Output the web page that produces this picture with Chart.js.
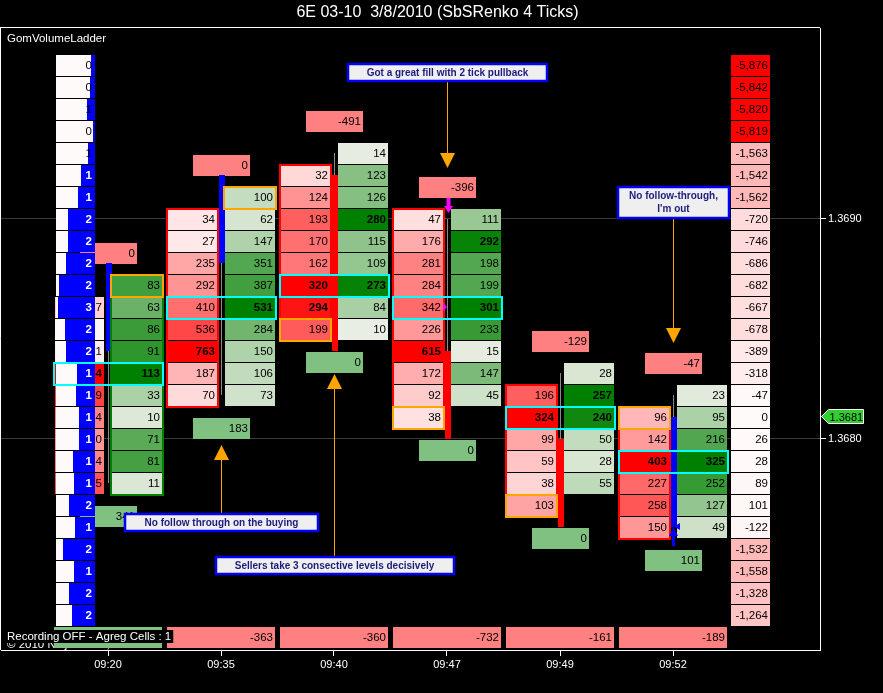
<!DOCTYPE html>
<html>
<head>
<meta charset="utf-8">
<script src="https://cdn.jsdelivr.net/npm/chart.js@4.4.1/dist/chart.umd.min.js"></script>
<style>
html,body{margin:0;padding:0;background:#000;overflow:hidden}
canvas{display:block}
</style>
</head>
<body>
<canvas id="c" width="883" height="693"></canvas>
<script>
// ---------------- DATA ----------------
const chartTitle = '6E 03-10  3/8/2010 (SbSRenko 4 Ticks)';
const indicatorName = 'GomVolumeLadder';
const statusText = 'Recording OFF - Agreg Cells : 1';
const copyrightText = '\u00A9 2010 NinjaTrader, LLC';
const TICK = 0.0001;

const times = ['09:20', '09:35', '09:40', '09:47', '09:49', '09:52'];
const yTickValues = [1.3680, 1.3690];
const lastPrice = 1.3681;

// candles
const candleOpen  = [1.3684, 1.3688, 1.3692, 1.3684, 1.3680, 1.3676];
const candleClose = [1.3688, 1.3692, 1.3684, 1.3680, 1.3676, 1.3681];
const candleHigh  = [1.3688, 1.3692, 1.3693, 1.3690, 1.3683, 1.3682];
const candleLow   = [1.3678, 1.3682, 1.3684, 1.3680, 1.3676, 1.3676];

// bid (sell) volume per price, listed from the top price downward
const bidTop = [1.3686, 1.3690, 1.3692, 1.3690, 1.3682, 1.3681];
const bidVolumes = [
  [7, null, 1, 54, 39, 24, 20, 24, 35],
  [34, 27, 235, 292, 410, 536, 763, 187, 70],
  [32, 124, 193, 170, 162, 320, 294, 199],
  [47, 176, 281, 284, 342, 226, 615, 172, 92, 38],
  [196, 324, 99, 59, 38, 103],
  [96, 142, 403, 227, 258, 150]
];
// ask (buy) volume per price, listed from the top price downward
const askTop = [1.3687, 1.3691, 1.3693, 1.3690, 1.3683, 1.3682];
const askVolumes = [
  [83, 63, 86, 91, 113, 33, 10, 71, 81, 11],
  [100, 62, 147, 351, 387, 531, 284, 150, 106, 73],
  [14, 123, 126, 280, 115, 109, 273, 84, 10],
  [111, 292, 198, 199, 301, 233, 15, 147, 45],
  [28, 257, 240, 50, 28, 55],
  [23, 95, 216, 325, 252, 127, 49]
];
// delta boxes above the high / below the low of each bar
const highDelta = [0, 0, -491, -396, -129, -47];
const lowDelta  = [341, 183, 0, 0, 0, 101];
// highlighted (orange) cell of each bar
const markPrice = [1.3687, 1.3691, 1.3685, 1.3681, 1.3677, 1.3681];
const markSide  = ['ask', 'ask', 'bid', 'bid', 'bid', 'bid'];

// trade executions
const tradeBars   = [3, 5];
const tradePrices = [1.3686, 1.3676];
const tradeSides  = ['sell', 'buy'];

// volume ladder (left) and cumulative delta ladder (right)
const ladderTop = 1.3697;
const ladderCounts = [0,0,1,0,1,1,1,2,2,2,2,3,2,2,1,1,1,1,1,1,2,1,2,1,2,2];
const ladderVolume = [4,5,8,2,7,14,17,27,27,29,36,37,30,29,18,19,16,16,22,21,26,20,32,21,26,23];
const ladderVolumeScale = 39;
const ladderDelta = [-5876,-5842,-5820,-5819,-1563,-1542,-1562,-720,-746,-686,-682,-667,-678,
                     -389,-318,-47,0,26,28,89,101,-122,-1532,-1558,-1328,-1264];

// annotations
const notes = [
  {lines: ['Got a great fill with 2 tick pullback'], bar: 3, tip: 1.369232, box: 1.369666, w: 199, dir: 'down'},
  {lines: ['No follow-through,', "I'm out"],         bar: 5, tip: 1.368436, box: 1.369075, w: 111, dir: 'down'},
  {lines: ['No follow through on the buying'],       bar: 1, tip: 1.367973, box: 1.367620, w: 193, dir: 'up'},
  {lines: ['Sellers take 3 consective levels decisively'], bar: 2, tip: 1.368295, box: 1.367425, w: 238, dir: 'up'}
];

// ---------------- STYLE ----------------
const FONT = '"Liberation Sans", Arial, sans-serif';
const CELL_FONT = '11.5px ' + FONT;
const yMax = 1.3690 + 191 / 22 * TICK;
const yMin = 1.3690 - 431 / 22 * TICK;
const xMin = -107 / 113;
const xMax = xMin + 819 / 113;

function redShade(r) { const g = Math.round(240 * (1 - r)); return `rgb(255,${g},${g})`; }
function greenShade(r) {
  return `rgb(${Math.round(242 * (1 - r))},${Math.round(242 + (128 - 242) * r)},${Math.round(236 * (1 - r))})`;
}
function ladderShade(r) { const g = Math.round(250 * (1 - r)); return `rgb(255,${g},${g})`; }
const rp = p => Math.round(p * 1e4) / 1e4;
const fmt = v => v.toLocaleString('en-US');

const footprint = {
  id: 'footprint',
  beforeDraw(chart) {
    const ctx = chart.ctx;
    ctx.save();
    ctx.fillStyle = '#000';
    ctx.fillRect(0, 0, chart.width, chart.height);
    ctx.restore();
  },
  afterDatasetsDraw(chart) {
    const {ctx, chartArea: ca} = chart;
    const xs = chart.scales.x, ys = chart.scales.y;
    const Y = p => ys.getPixelForValue(p);
    const X = i => Math.round(xs.getPixelForValue(i));
    const rowTop = p => Math.round(Y(p + TICK / 2)) + 1;
    const rowBot = p => Math.round(Y(p - TICK / 2));

    function textRight(t, xr, ym, bold, color) {
      ctx.font = (bold ? 'bold ' : '') + CELL_FONT;
      ctx.fillStyle = color || '#000';
      ctx.textAlign = 'right';
      ctx.textBaseline = 'middle';
      ctx.fillText(t, xr, ym);
    }
    function cell(x0, x1, p, fill, txt, bold) {
      const t = rowTop(p), b = rowBot(p);
      ctx.fillStyle = fill;
      ctx.fillRect(x0, t, x1 - x0, b - t);
      if (txt !== null && txt !== undefined) textRight(txt, x1 - 2, (t + b) / 2 + 0.5, bold);
    }
    function box(x0, x1, t, h, fill, txt) {
      ctx.fillStyle = fill;
      ctx.fillRect(x0, t, x1 - x0, h);
      textRight(txt, x1 - 2, t + h / 2 + 0.5, false);
    }

    ctx.save();
    ctx.beginPath();
    ctx.rect(ca.left, ca.top, ca.right - ca.left, ca.bottom - ca.top);
    ctx.clip();

    // copyright (mostly hidden)
    ctx.font = '11.5px ' + FONT;
    ctx.fillStyle = '#fff';
    ctx.textAlign = 'left';
    ctx.textBaseline = 'alphabetic';
    ctx.fillText(copyrightText, 7, 648);

    const deltas = times.map((_, i) => {
      const a = askVolumes[i].reduce((s, v) => s + (v || 0), 0);
      const b = bidVolumes[i].reduce((s, v) => s + (v || 0), 0);
      return a - b;
    });
    const totalRow = rp(ladderTop - ladderCounts.length * TICK);

    // boxes
    times.forEach((_, i) => {
      const c = X(i);
      const hiCell = Math.max(bidTop[i], askTop[i]);
      const loCell = Math.min(rp(bidTop[i] - (bidVolumes[i].length - 1) * TICK),
                              rp(askTop[i] - (askVolumes[i].length - 1) * TICK));
      box(c - 28, c + 29, Math.round(Y(hiCell + 2 * TICK)) + 2, 21, '#ff8080', fmt(highDelta[i]));
      box(c - 28, c + 29, Math.round(Y(loCell - TICK)) + 1, 21, '#80c080', fmt(lowDelta[i]));
      cell(c - 54, c + 54, totalRow, deltas[i] < 0 ? '#ff8080' : '#80c080', fmt(deltas[i]), false);
    });

    // cells
    times.forEach((_, i) => {
      const c = X(i);
      const bmax = Math.max(...bidVolumes[i].map(v => v || 0));
      const amax = Math.max(...askVolumes[i]);
      bidVolumes[i].forEach((v, k) => {
        const p = rp(bidTop[i] - k * TICK);
        const r = (v || 0) / bmax;
        cell(c - 53, c - 4, p, v === null ? '#fff6f6' : redShade(r), v === null ? null : String(v), r > 0.85);
      });
      askVolumes[i].forEach((v, k) => {
        const p = rp(askTop[i] - k * TICK);
        const r = v / amax;
        cell(c + 4, c + 54, p, greenShade(r), String(v), r > 0.85);
      });
    });

    // candles
    times.forEach((_, i) => {
      const c = X(i);
      ctx.strokeStyle = '#8a8a8a';
      ctx.lineWidth = 1;
      ctx.beginPath();
      ctx.moveTo(c + 0.5, Math.round(Y(candleHigh[i])));
      ctx.lineTo(c + 0.5, Math.round(Y(candleLow[i])));
      ctx.stroke();
      const top = Math.round(Y(Math.max(candleOpen[i], candleClose[i])));
      const bot = Math.round(Y(Math.min(candleOpen[i], candleClose[i])));
      ctx.fillStyle = candleClose[i] > candleOpen[i] ? '#0000ff' : '#ff0000';
      ctx.fillRect(c - 2, top, 6, bot - top);
    });

    // left volume ladder
    const lx0 = ca.left + 55, lw = 39;
    const vmax = ladderVolumeScale;
    ladderCounts.forEach((n, k) => {
      const p = rp(ladderTop - k * TICK);
      const t = rowTop(p), b = rowBot(p);
      ctx.fillStyle = '#fffafa';
      ctx.fillRect(lx0, t, lw, b - t);
      const bw = Math.round(ladderVolume[k] / vmax * lw);
      ctx.fillStyle = '#0000ff';
      ctx.fillRect(lx0 + lw - bw, t, bw, b - t);
      ctx.font = (bw >= 10 ? 'bold ' : '') + CELL_FONT;
      ctx.fillStyle = bw >= 10 ? '#fff' : '#000';
      ctx.textAlign = 'right';
      ctx.textBaseline = 'middle';
      ctx.fillText(String(n), lx0 + lw - 3, (t + b) / 2 + 0.5);
    });

    // right delta ladder
    const rx1 = ca.right - 50, rx0 = rx1 - 39;
    const dmax = Math.max(...ladderDelta.map(Math.abs));
    ladderDelta.forEach((v, k) => {
      const p = rp(ladderTop - k * TICK);
      cell(rx0, rx1, p, ladderShade(Math.abs(v) / dmax), fmt(v), false);
    });

    // borders / highlights
    times.forEach((_, i) => {
      const c = X(i);
      ctx.lineWidth = 2;
      // side border by delta
      if (deltas[i] < 0) {
        const t = rowTop(bidTop[i]);
        const b = rowBot(rp(bidTop[i] - (bidVolumes[i].length - 1) * TICK));
        ctx.strokeStyle = '#ff0000';
        ctx.strokeRect(c - 54, t, 51, b - t + 1);
      } else {
        const t = rowTop(askTop[i]);
        const b = rowBot(rp(askTop[i] - (askVolumes[i].length - 1) * TICK));
        ctx.strokeStyle = '#008000';
        ctx.strokeRect(c + 3, t, 52, b - t + 1);
      }
      // orange mark
      {
        const t = rowTop(markPrice[i]), b = rowBot(markPrice[i]);
        ctx.strokeStyle = '#ffa500';
        if (markSide[i] === 'bid') ctx.strokeRect(c - 54, t, 51, b - t + 1);
        else ctx.strokeRect(c + 3, t, 52, b - t + 1);
      }
      // POC (max total volume)
      const tot = {};
      bidVolumes[i].forEach((v, k) => { const p = rp(bidTop[i] - k * TICK); tot[p] = (tot[p] || 0) + (v || 0); });
      askVolumes[i].forEach((v, k) => { const p = rp(askTop[i] - k * TICK); tot[p] = (tot[p] || 0) + v; });
      let poc = null, best = -1;
      Object.keys(tot).forEach(p => { if (tot[p] > best) { best = tot[p]; poc = +p; } });
      const t = rowTop(poc), b = rowBot(poc);
      ctx.strokeStyle = '#00ffff';
      ctx.strokeRect(c - 54, t, 109, b - t + 1);
    });

    // trade markers
    tradeBars.forEach((bi, j) => {
      const c = X(bi);
      const py = Math.round(Y(tradePrices[j]));
      if (tradeSides[j] === 'sell') {
        ctx.fillStyle = '#ff00ff';
        ctx.beginPath();
        ctx.moveTo(c - 4, py - 4.5); ctx.lineTo(c, py); ctx.lineTo(c - 4, py + 4.5); ctx.closePath(); ctx.fill();
        const tip = Math.round(Y(candleHigh[bi])) - 6;
        const cx = c + 1.5;
        ctx.fillRect(cx - 2, tip - 15, 4, 9);
        ctx.beginPath();
        ctx.moveTo(cx - 4.5, tip - 7); ctx.lineTo(cx + 4.5, tip - 7); ctx.lineTo(cx, tip); ctx.closePath(); ctx.fill();
      } else {
        ctx.fillStyle = '#0000ff';
        ctx.beginPath();
        ctx.moveTo(c + 7, py - 4); ctx.lineTo(c + 1, py - 0.5); ctx.lineTo(c + 7, py + 3); ctx.closePath(); ctx.fill();
        const tip = Math.round(Y(candleLow[bi]));
        const cx = c + 0.5;
        ctx.beginPath();
        ctx.moveTo(cx - 4.5, tip + 9); ctx.lineTo(cx + 4.5, tip + 9); ctx.lineTo(cx, tip); ctx.closePath(); ctx.fill();
        ctx.fillRect(cx - 1.5, tip + 9, 3, 10);
      }
    });

    // annotations
    notes.forEach(n => {
      const cx = X(n.bar);
      const by = Y(n.box);
      const h = n.lines.length === 1 ? 17 : 31;
      const bt = Math.round(by - h / 2), bb = bt + h;
      const tipY = Math.round(Y(n.tip));
      ctx.strokeStyle = '#ffa500';
      ctx.fillStyle = '#ffa500';
      ctx.lineWidth = 1;
      ctx.beginPath();
      if (n.dir === 'down') {
        ctx.moveTo(cx + 0.5, bb); ctx.lineTo(cx + 0.5, tipY - 15);
      } else {
        ctx.moveTo(cx + 0.5, bt); ctx.lineTo(cx + 0.5, tipY + 15);
      }
      ctx.stroke();
      ctx.beginPath();
      if (n.dir === 'down') {
        ctx.moveTo(cx - 7, tipY - 15); ctx.lineTo(cx + 8, tipY - 15); ctx.lineTo(cx + 0.5, tipY);
      } else {
        ctx.moveTo(cx - 7, tipY + 15); ctx.lineTo(cx + 8, tipY + 15); ctx.lineTo(cx + 0.5, tipY);
      }
      ctx.closePath();
      ctx.fill();
      const bx = Math.round(cx + 0.5 - n.w / 2);
      ctx.fillStyle = '#efefef';
      ctx.fillRect(bx, bt, n.w, h);
      ctx.strokeStyle = '#0000ff';
      ctx.lineWidth = 2.5;
      ctx.strokeRect(bx, bt, n.w, h);
      ctx.font = 'bold 10px ' + FONT;
      ctx.fillStyle = '#1c1c7c';
      ctx.textAlign = 'center';
      ctx.textBaseline = 'middle';
      n.lines.forEach((ln, k) => {
        const ly = (bt + bb) / 2 + (k - (n.lines.length - 1) / 2) * 13 + 0.5;
        ctx.fillText(ln, cx + 0.5, ly);
      });
    });

    // status text
    ctx.font = '11.5px ' + FONT;
    const sw = ctx.measureText(statusText).width;
    ctx.fillStyle = '#000';
    ctx.fillRect(5, 630, sw + 4, 13);
    ctx.fillStyle = '#fff';
    ctx.textAlign = 'left';
    ctx.textBaseline = 'middle';
    ctx.fillText(statusText, 7, 637);
    ctx.restore();
  },
  afterDraw(chart) {
    const {ctx, chartArea: ca} = chart;
    const ys = chart.scales.y;
    ctx.save();
    // frame
    ctx.strokeStyle = '#fff';
    ctx.lineWidth = 1;
    ctx.beginPath();
    ctx.moveTo(0, ca.top - 0.5); ctx.lineTo(ca.right, ca.top - 0.5);
    ctx.moveTo(0.5, ca.top - 0.5); ctx.lineTo(0.5, ca.bottom);
    ctx.stroke();
    // indicator name
    ctx.font = '11.5px ' + FONT;
    ctx.fillStyle = '#fff';
    ctx.textAlign = 'left';
    ctx.textBaseline = 'middle';
    ctx.fillText(indicatorName, 7, 39);
    // title
    ctx.font = '16px ' + FONT;
    ctx.textAlign = 'center';
    ctx.fillText(chartTitle, 437.5, 13);
    // last price tag
    const py = Math.round(ys.getPixelForValue(lastPrice)) - 0.5;
    const x0 = ca.right + 1.5;
    ctx.beginPath();
    ctx.moveTo(x0, py);
    ctx.lineTo(x0 + 7, py - 7);
    ctx.lineTo(x0 + 42, py - 7);
    ctx.lineTo(x0 + 42, py + 7);
    ctx.lineTo(x0 + 7, py + 7);
    ctx.closePath();
    ctx.fillStyle = '#33cc33';
    ctx.fill();
    ctx.strokeStyle = '#fff';
    ctx.stroke();
    ctx.font = '11px ' + FONT;
    ctx.fillStyle = '#000';
    ctx.textAlign = 'left';
    ctx.textBaseline = 'middle';
    ctx.fillText(lastPrice.toFixed(4), x0 + 8, py + 1);
    ctx.restore();
  }
};

new Chart(document.getElementById('c'), {
  type: 'scatter',
  data: { datasets: [{ data: [] }] },
  options: {
    responsive: false,
    animation: false,
    devicePixelRatio: 1,
    layout: { padding: { top: 28, left: 1, right: 0, bottom: 0 } },
    plugins: { legend: { display: false }, tooltip: { enabled: false }, title: { display: false } },
    scales: {
      x: {
        type: 'linear', min: xMin, max: xMax,
        afterBuildTicks: s => { s.ticks = times.map((t, i) => ({ value: i })); },
        afterFit: s => { s.height = 43; },
        ticks: {
          callback: v => times[v], color: '#fff', font: { size: 11, family: FONT },
          padding: 2, maxRotation: 0, autoSkip: false
        },
        grid: { drawOnChartArea: false, tickLength: 6, tickColor: '#fff', color: '#fff' },
        border: { display: true, color: '#fff', width: 1 }
      },
      y: {
        type: 'linear', position: 'right', min: yMin, max: yMax,
        afterBuildTicks: s => { s.ticks = yTickValues.map(v => ({ value: v })); },
        afterFit: s => { s.width = 63; },
        ticks: { callback: v => v.toFixed(4), color: '#fff', font: { size: 11, family: FONT }, padding: 2 },
        grid: { color: '#3a3a3a', tickColor: '#fff', tickLength: 6 },
        border: { display: true, color: '#fff', width: 1 }
      }
    }
  },
  plugins: [footprint]
});
</script>
</body>
</html>
